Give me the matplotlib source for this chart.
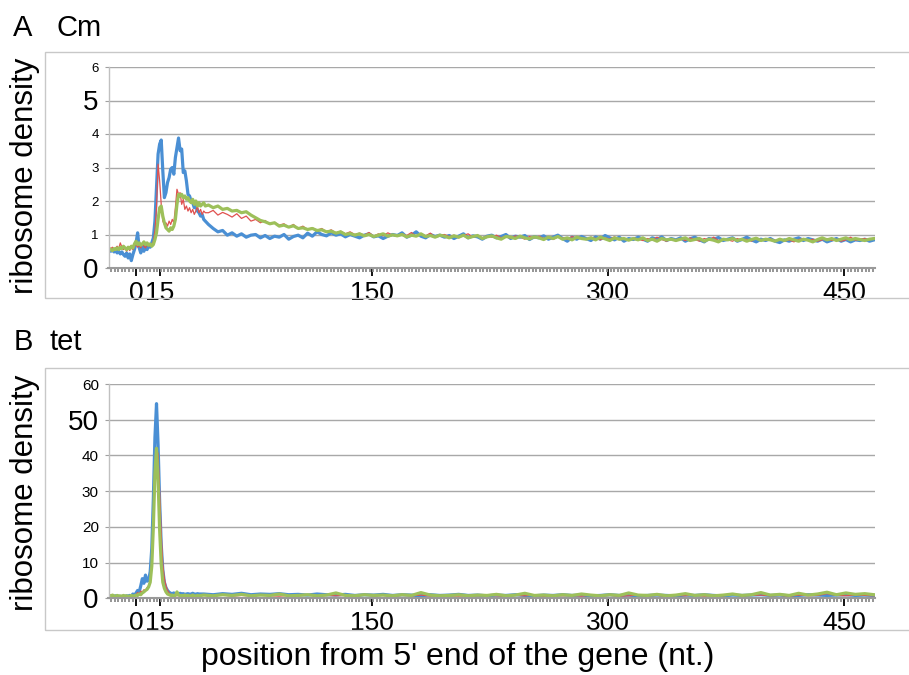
import numpy as np
import matplotlib
matplotlib.use("Agg")
import matplotlib.pyplot as plt
from matplotlib.patches import Rectangle
from matplotlib.ticker import MultipleLocator

plt.rcParams['font.family'] = ['Liberation Sans', 'DejaVu Sans']

# positions (nt from 5' end); fine steps near the start codon, coarser later
pos_a = np.concatenate([np.arange(-17, 45), np.arange(46, 470, 3)])
pos_b = np.concatenate([np.arange(-17, 41), np.arange(43, 470, 6)])

# ---- panel A: Cm ----
cm_blue = [
    0.52, 0.50, 0.55, 0.48, 0.52, 0.45, 0.50, 0.42, 0.48, 0.40,
    0.35, 0.45, 0.30, 0.42, 0.22, 0.40, 0.55, 0.75, 1.05, 0.60,
    0.45, 0.62, 0.50, 0.70, 0.55, 0.68, 0.62, 0.75, 0.90, 1.40,
    2.40, 3.40, 3.70, 3.82, 2.90, 2.10, 2.25, 2.55, 2.70, 2.95,
    3.00, 2.80, 3.30, 3.60, 3.88, 3.50, 3.55, 2.85, 2.90, 2.60,
    2.20, 2.15, 2.00, 1.95, 1.80, 1.85, 1.70, 1.65, 1.55, 1.60,
    1.45, 1.40,
    1.30, 1.18, 1.08, 1.12, 0.98, 1.05, 0.95, 1.02, 0.92, 0.98,
    1.00, 0.90, 0.97, 0.88, 0.95, 0.92, 1.00, 0.86, 0.94, 0.98,
    0.90, 1.04, 0.95, 1.08, 1.00, 0.96, 1.05, 0.98, 1.02, 0.93,
    1.00, 0.95, 0.90, 0.98, 1.02, 0.93, 0.96, 0.88, 0.95, 1.00,
    0.97, 1.05, 0.92, 0.98, 1.08, 0.95, 0.90, 1.00, 0.94, 0.98,
    0.92, 0.97, 0.88, 0.95, 1.02, 0.90, 0.96, 0.93, 0.86, 0.95,
    0.98, 0.90, 0.94, 1.00, 0.88, 0.95, 0.92, 0.97, 0.85, 0.93,
    0.90, 0.96, 0.86, 0.92, 0.98, 0.88, 0.80, 0.92, 0.86, 0.94,
    0.88, 0.82, 0.93, 0.86, 0.97, 0.90, 0.84, 0.92, 0.80, 0.88,
    0.85, 0.92, 0.86, 0.80, 0.90, 0.85, 0.93, 0.82, 0.88, 0.84,
    0.90, 0.80, 0.87, 0.92, 0.84, 0.78, 0.88, 0.85, 0.91, 0.82,
    0.86, 0.90, 0.80, 0.85, 0.92, 0.84, 0.78, 0.86, 0.82, 0.88,
    0.80, 0.76, 0.84, 0.80, 0.86, 0.90, 0.82, 0.88, 0.84, 0.80,
    0.86, 0.78, 0.83, 0.88, 0.80, 0.85, 0.78, 0.84, 0.82, 0.86,
    0.80, 0.84,
]
cm_red = [
    0.60, 0.58, 0.62, 0.55, 0.60, 0.65, 0.58, 0.75, 0.62, 0.55,
    0.60, 0.50, 0.58, 0.52, 0.60, 0.55, 0.65, 0.70, 0.62, 0.68,
    0.60, 0.72, 0.65, 0.60, 0.70, 0.65, 0.72, 0.68, 0.80, 1.10,
    1.80, 3.10, 2.60, 1.90, 1.40, 1.30, 1.35, 1.25, 1.40, 1.30,
    1.45, 1.35, 1.80, 2.35, 2.20, 2.25, 1.90, 2.05, 1.75, 1.85,
    1.70, 1.80, 1.65, 1.75, 1.60, 1.70, 1.85, 1.65, 1.75, 1.60,
    1.70, 1.65,
    1.65, 1.72, 1.58, 1.66, 1.60, 1.52, 1.62, 1.48, 1.55, 1.40,
    1.45, 1.35, 1.42, 1.30, 1.36, 1.28, 1.32, 1.22, 1.30, 1.18,
    1.25, 1.15, 1.20, 1.12, 1.18, 1.08, 1.14, 1.05, 1.10, 1.02,
    1.08, 1.00, 1.04, 0.98, 1.06, 0.95, 1.02, 0.96, 1.05, 0.98,
    0.95, 1.02, 0.97, 1.06, 0.94, 1.00, 0.96, 1.04, 0.92, 0.98,
    1.00, 0.94, 0.98, 0.90, 0.97, 1.02, 0.92, 0.96, 0.90, 0.95,
    0.92, 0.98, 0.90, 0.95, 0.88, 0.96, 0.92, 0.86, 0.94, 0.90,
    0.95, 0.88, 0.92, 0.85, 0.93, 0.90, 0.86, 0.94, 0.88, 0.91,
    0.85, 0.92, 0.88, 0.84, 0.90, 0.86, 0.93, 0.84, 0.88, 0.82,
    0.90, 0.86, 0.82, 0.88, 0.84, 0.92, 0.85, 0.80, 0.87, 0.84,
    0.88, 0.82, 0.90, 0.85, 0.80, 0.88, 0.84, 0.92, 0.82, 0.86,
    0.84, 0.80, 0.88, 0.83, 0.86, 0.80, 0.90, 0.84, 0.82, 0.87,
    0.82, 0.86, 0.80, 0.84, 0.78, 0.85, 0.88, 0.82, 0.86, 0.80,
    0.84, 0.88, 0.82, 0.86, 0.80, 0.84, 0.92, 0.83, 0.86, 0.88,
    0.84, 0.90,
]
cm_green = [
    0.58, 0.55, 0.52, 0.58, 0.55, 0.60, 0.55, 0.62, 0.58, 0.65,
    0.60, 0.55, 0.62, 0.58, 0.65, 0.60, 0.72, 0.80, 0.70, 0.75,
    0.68, 0.72, 0.78, 0.70, 0.75, 0.68, 0.72, 0.65, 0.70, 0.85,
    1.05, 1.45, 1.80, 1.85, 1.55, 1.35, 1.20, 1.15, 1.10, 1.20,
    1.15, 1.25, 1.45, 1.90, 2.20, 2.15, 2.20, 2.10, 2.15, 2.05,
    2.10, 2.00, 1.95, 2.05, 1.90, 2.00, 1.85, 1.95, 1.85, 1.90,
    1.95, 1.85,
    1.88, 1.80, 1.85, 1.75, 1.78, 1.70, 1.72, 1.65, 1.68, 1.58,
    1.50, 1.42, 1.38, 1.32, 1.35, 1.25, 1.28, 1.22, 1.26, 1.18,
    1.20, 1.15, 1.18, 1.12, 1.14, 1.08, 1.10, 1.04, 1.08, 1.00,
    1.03, 0.98, 1.02, 0.96, 1.00, 0.94, 0.98, 1.02, 0.95, 0.99,
    0.96, 1.00, 0.93, 0.98, 0.95, 1.02, 0.94, 0.97, 0.92, 0.98,
    0.95, 0.90, 0.96, 0.92, 0.98, 0.90, 0.94, 0.97, 0.88, 0.93,
    0.96, 0.90, 0.86, 0.94, 0.92, 0.88, 0.95, 0.90, 0.87, 0.93,
    0.90, 0.85, 0.92, 0.88, 0.94, 0.86, 0.90, 0.84, 0.92, 0.88,
    0.86, 0.90, 0.84, 0.92, 0.87, 0.82, 0.90, 0.86, 0.88, 0.83,
    0.88, 0.84, 0.90, 0.82, 0.86, 0.80, 0.88, 0.84, 0.86, 0.82,
    0.86, 0.90, 0.82, 0.85, 0.88, 0.80, 0.86, 0.83, 0.78, 0.86,
    0.84, 0.88, 0.82, 0.86, 0.80, 0.85, 0.89, 0.82, 0.86, 0.84,
    0.80, 0.86, 0.82, 0.88, 0.84, 0.80, 0.86, 0.83, 0.78, 0.85,
    0.90, 0.84, 0.88, 0.82, 0.86, 0.90, 0.84, 0.88, 0.85, 0.82,
    0.86, 0.88,
]

# ---- panel B: tet ----
tet_blue = [
    0.5, 0.6, 0.4, 0.5, 0.7, 0.5, 0.6, 0.4, 0.5, 0.6,
    0.5, 0.7, 0.6, 0.8, 0.6, 1.2, 0.8, 1.5, 2.2, 1.8,
    3.5, 5.5, 4.2, 6.5, 4.8, 5.0, 7.5, 14.0, 28.0, 45.0,
    54.5, 43.0, 27.0, 15.0, 8.0, 4.5, 3.0, 2.2, 1.7, 1.4,
    1.3, 1.5, 1.2, 1.3, 1.1, 1.4, 1.2, 1.3, 1.1, 1.2,
    1.3, 1.1, 1.2, 1.4, 1.2, 1.1, 1.3, 1.2,
    1.2, 1.0, 1.3, 1.1, 1.4, 1.0, 1.2, 1.1, 1.3, 1.0,
    1.1, 0.9, 1.2, 1.0, 0.9, 1.1, 0.8, 1.0, 0.9, 1.1,
    0.8, 1.0, 0.9, 0.7, 1.0, 0.8, 0.9, 1.1, 0.8, 0.9,
    0.7, 0.9, 0.8, 1.0, 0.8, 0.7, 0.9, 0.8, 1.0, 0.8,
    0.9, 0.7, 0.8, 1.0, 0.8, 0.9, 0.7, 0.8, 0.9, 0.8,
    0.7, 0.9, 0.8, 1.0, 0.8, 0.7, 0.9, 0.8, 0.9, 1.0,
    0.8, 0.9, 0.7, 0.8, 1.0, 0.9, 0.8, 0.9, 1.0, 0.8,
    0.9, 0.8,
]
tet_red = [
    0.4, 0.5, 0.3, 0.5, 0.4, 0.6, 0.4, 0.5, 0.3, 0.5,
    0.4, 0.6, 0.5, 0.7, 0.5, 0.8, 0.6, 1.0, 1.6, 1.2,
    2.0, 1.8, 2.4, 2.2, 3.0, 3.5, 5.0, 10.0, 21.0, 35.0,
    41.5, 40.5, 30.0, 18.0, 9.5, 5.5, 3.5, 2.2, 1.5, 1.0,
    0.9, 0.8, 0.9, 0.7, 0.8, 0.9, 0.7, 0.8, 0.6, 0.8,
    0.7, 0.9, 0.7, 0.8, 0.6, 0.8, 0.7, 0.8,
    0.8, 0.7, 0.9, 0.6, 0.8, 0.7, 0.9, 0.7, 0.6, 0.8,
    0.7, 0.9, 0.6, 0.8, 0.7, 0.8, 0.6, 0.9, 0.7, 0.8,
    0.6, 0.8, 0.7, 0.9, 0.6, 0.8, 0.7, 0.6, 0.8, 0.7,
    0.9, 0.7, 0.6, 0.8, 0.7, 0.9, 0.6, 0.8, 0.7, 0.8,
    0.6, 0.9, 0.7, 0.8, 0.6, 0.7, 0.9, 0.7, 0.8, 0.6,
    0.8, 0.7, 0.9, 0.6, 0.8, 0.7, 1.2, 0.7, 0.8, 0.9,
    0.7, 0.8, 0.6, 0.9, 0.7, 0.8, 1.3, 0.8, 0.7, 0.9,
    0.8, 0.7,
]
tet_green = [
    0.8, 0.6, 0.9, 0.7, 0.5, 0.8, 0.6, 0.7, 0.5, 0.8,
    0.6, 0.7, 0.5, 0.6, 0.8, 0.6, 0.7, 0.9, 0.8, 1.2,
    1.0, 1.5, 1.8, 2.2, 2.5, 3.2, 4.5, 9.0, 20.0, 35.0,
    42.0, 33.0, 19.0, 9.5, 4.5, 2.8, 1.8, 1.2, 1.0, 0.8,
    0.9, 0.6, 0.8, 1.8, 0.9, 0.7, 0.8, 0.6, 0.9, 0.7,
    0.8, 0.6, 0.7, 0.9, 0.7, 0.6, 0.8, 0.7,
    0.9, 0.7, 1.0, 0.8, 1.1, 0.7, 0.9, 0.8, 1.2, 0.7,
    0.8, 1.0, 0.7, 0.9, 1.5, 0.8, 0.7, 1.0, 0.8, 0.9,
    0.7, 1.0, 0.8, 1.6, 0.9, 0.7, 0.8, 1.0, 0.7, 0.9,
    0.8, 1.1, 0.7, 0.9, 1.4, 0.8, 0.9, 0.7, 1.0, 0.8,
    1.2, 0.9, 0.7, 1.0, 0.8, 1.5, 0.9, 0.8, 1.1, 0.7,
    0.9, 1.3, 0.8, 1.0, 0.7, 0.9, 1.2, 0.8, 1.0, 1.6,
    0.9, 1.1, 0.8, 1.4, 0.9, 1.2, 1.7, 1.0, 1.5, 1.1,
    1.3, 1.0,
]

x_ticks = [0, 15, 150, 300, 450]
x_labels = ['0', '15', '150', '300', '450']
a_yticks = [0, 1, 2, 3, 4, 5, 6]
a_ylabels = ['0', '1', '2', '3', '4', '5', '6']
b_yticks = [0, 10, 20, 30, 40, 50, 60]
b_ylabels = ['0', '10', '20', '30', '40', '50', '60']
big_y = {'0', '5', '50'}   # these labels were enlarged on the figure

BLUE = '#4a8fd4'
RED = '#e0514f'
GREEN = '#9dc05a'

W, H = 909, 675


def fx(px):
    return px / W


def fy(py):
    return 1 - py / H


def setup_axis(ax, yticks, ylabels, ytop, small_size):
    ax.set_xlim(-17.5, 469.5)
    ax.set_ylim(0, ytop)
    for s in ['top', 'right']:
        ax.spines[s].set_visible(False)
    ax.spines['left'].set_color('#c0c0c0')
    ax.spines['left'].set_linewidth(1.0)
    ax.spines['bottom'].set_color('#9a9a9a')
    ax.spines['bottom'].set_linewidth(1.5)
    ax.yaxis.grid(True, color='#a8a8a8', linewidth=1.0)
    ax.set_axisbelow(True)
    ax.set_yticks(yticks, ylabels)
    for lbl in ax.get_yticklabels():
        lbl.set_fontsize(20 if lbl.get_text() in big_y else small_size)
    ax.tick_params(axis='y', direction='out', length=3, width=0.8,
                   color='#a0a0a0', pad=4)
    ax.set_xticks(x_ticks, x_labels)
    ax.xaxis.set_minor_locator(MultipleLocator(2.25))
    ax.tick_params(axis='x', which='major', length=6, width=1.3,
                   color='black', labelsize=19, pad=3)
    ax.tick_params(axis='x', which='minor', length=3, width=1.3,
                   color='#8c8c8c')


fig = plt.figure(figsize=(W / 100, H / 100), dpi=100)

# chart-area frames
for top, bot in [(52, 298), (368, 630)]:
    fig.patches.append(Rectangle((fx(45), fy(bot)), fx(915) - fx(45),
                                 fy(top) - fy(bot), fill=False,
                                 ec='#c8c8c8', lw=1.0,
                                 transform=fig.transFigure))

ax_a = fig.add_axes([fx(108.5), fy(268), fx(875) - fx(108.5), fy(67) - fy(268)])
ax_b = fig.add_axes([fx(108.5), fy(598.3), fx(875) - fx(108.5), fy(384) - fy(598.3)])

for ax, blue, red, green, pos in [(ax_a, cm_blue, cm_red, cm_green, pos_a),
                                  (ax_b, tet_blue, tet_red, tet_green, pos_b)]:
    ax.plot(pos, blue, color=BLUE, lw=2.3, solid_joinstyle='round')
    ax.plot(pos, red, color=RED, lw=0.9)
    ax.plot(pos, green, color=GREEN, lw=2.3, solid_joinstyle='round')

setup_axis(ax_a, a_yticks, a_ylabels, 6, 9.5)
setup_axis(ax_b, b_yticks, b_ylabels, 60, 11)

# panel letters and drug names
fig.text(fx(13), fy(28), 'A', fontsize=21, va='center')
fig.text(fx(56), fy(28), 'Cm', fontsize=21, va='center')
fig.text(fx(14), fy(342), 'B', fontsize=21, va='center')
fig.text(fx(50), fy(342), 'tet', fontsize=21, va='center')

fig.text(fx(25), fy(176), 'ribosome density', fontsize=22.5,
         rotation=90, ha='center', va='center')
fig.text(fx(25), fy(493), 'ribosome density', fontsize=22.5,
         rotation=90, ha='center', va='center')
fig.text(fx(458), fy(657), "position from 5' end of the gene (nt.)",
         fontsize=23, ha='center', va='center')

fig.savefig('out.png', dpi=100)
